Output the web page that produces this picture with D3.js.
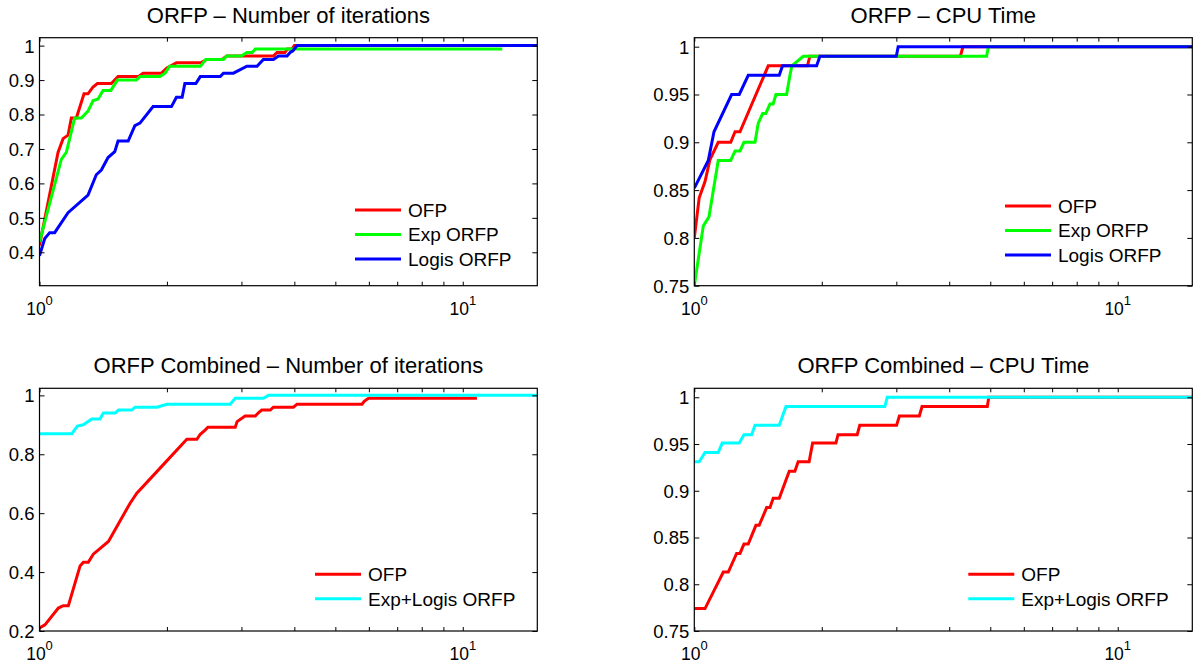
<!DOCTYPE html>
<html>
<head>
<meta charset="utf-8">
<script src="https://cdn.jsdelivr.net/npm/d3@7"></script>
<style>
  body { margin: 0; background: #fff; }
  svg text { font-family: "Liberation Sans", Arial, Helvetica, sans-serif; fill: #000; }
</style>
</head>
<body>
<svg id="chart" width="1198" height="667"></svg>
<script>
// ---- data (tau = performance ratio, rho = fraction solved) ----
var itTauOFP = [1, 1.106, 1.137, 1.168, 1.189, 1.222, 1.274, 1.302, 1.338, 1.37, 1.478, 1.533, 1.711, 1.757, 1.941, 2.0, 2.106, 2.40, 2.487, 2.70, 2.77, 3.57, 3.64, 3.80, 3.85, 3.95, 4.0, 12.4];
var itRhoOFP = [0.42, 0.69, 0.73, 0.74, 0.79, 0.79, 0.86, 0.86, 0.88, 0.89, 0.89, 0.91, 0.91, 0.92, 0.92, 0.935, 0.95, 0.95, 0.96, 0.96, 0.97, 0.97, 0.98, 0.98, 0.99, 0.99, 1.0, 1.0];
var itTauExp = [1, 1.126, 1.157, 1.211, 1.256, 1.302, 1.338, 1.375, 1.413, 1.474, 1.528, 1.694, 1.727, 1.925, 1.98, 2.03, 2.40, 2.47, 2.72, 2.77, 3.0, 3.09, 3.18, 3.235, 12.4];
var itRhoExp = [0.43, 0.67, 0.69, 0.79, 0.79, 0.81, 0.84, 0.845, 0.87, 0.87, 0.90, 0.90, 0.91, 0.91, 0.92, 0.94, 0.94, 0.96, 0.96, 0.97, 0.97, 0.98, 0.98, 0.99, 0.99];
var itTauLog = [1, 1.029, 1.057, 1.086, 1.168, 1.302, 1.362, 1.40, 1.452, 1.506, 1.533, 1.62, 1.68, 1.727, 1.855, 2.05, 2.106, 2.173, 2.205, 2.341, 2.398, 2.673, 2.72, 2.872, 3.09, 3.265, 3.38, 3.57, 3.67, 3.845, 3.91, 3.97, 4.06, 15];
var itRhoLog = [0.39, 0.44, 0.457, 0.457, 0.515, 0.566, 0.625, 0.639, 0.675, 0.692, 0.723, 0.723, 0.768, 0.775, 0.823, 0.823, 0.85, 0.85, 0.89, 0.89, 0.91, 0.91, 0.92, 0.92, 0.94, 0.94, 0.96, 0.96, 0.97, 0.97, 0.98, 0.985, 1.0, 1.0];

var cpuTauOFP = [1, 1.027, 1.06, 1.089, 1.139, 1.219, 1.248, 1.282, 1.495, 1.608, 1.85, 1.875, 4.25, 4.31, 15];
var cpuRhoOFP = [0.80, 0.842, 0.859, 0.882, 0.90, 0.90, 0.911, 0.911, 0.98, 0.98, 0.98, 0.99, 0.99, 1.0, 1.0];
var cpuTauExp = [1, 1.05, 1.083, 1.139, 1.219, 1.248, 1.282, 1.31, 1.391, 1.416, 1.45, 1.475, 1.509, 1.535, 1.559, 1.652, 1.682, 1.70, 1.808, 4.9, 4.95, 15];
var cpuRhoExp = [0.75, 0.8125, 0.822, 0.881, 0.881, 0.891, 0.891, 0.90, 0.90, 0.92, 0.93, 0.93, 0.94, 0.94, 0.95, 0.95, 0.97, 0.98, 0.99, 0.99, 1.0, 1.0];
var cpuTauLog = [1, 1.079, 1.113, 1.225, 1.277, 1.341, 1.587, 1.616, 1.945, 1.98, 3.0, 3.03, 15];
var cpuRhoLog = [0.852, 0.881, 0.911, 0.95, 0.95, 0.97, 0.97, 0.98, 0.98, 0.99, 0.99, 1.0, 1.0];

var cmbItTauOFP = [1, 1.03, 1.108, 1.138, 1.17, 1.247, 1.269, 1.304, 1.34, 1.455, 1.637, 1.698, 1.927, 2.229, 2.354, 2.398, 2.462, 2.50, 2.90, 2.93, 3.06, 3.235, 3.29, 3.35, 3.51, 3.57, 3.98, 4.06, 5.78, 5.85, 5.99, 10.8];
var cmbItRhoOFP = [0.21, 0.221, 0.278, 0.286, 0.286, 0.421, 0.433, 0.433, 0.461, 0.504, 0.634, 0.668, 0.753, 0.851, 0.851, 0.868, 0.882, 0.892, 0.892, 0.911, 0.93, 0.93, 0.941, 0.95, 0.95, 0.96, 0.96, 0.97, 0.97, 0.98, 0.99, 0.99];
var cmbItTauEL = [1, 1.192, 1.229, 1.269, 1.329, 1.39, 1.415, 1.509, 1.537, 1.652, 1.682, 1.893, 2.0, 2.822, 2.9, 3.383, 3.477, 15];
var cmbItRhoEL = [0.87, 0.87, 0.896, 0.90, 0.92, 0.92, 0.94, 0.94, 0.95, 0.95, 0.96, 0.96, 0.97, 0.97, 0.99, 0.99, 1.0, 1.0];

var cmbCpuTauOFP = [1, 1.06, 1.171, 1.203, 1.259, 1.282, 1.31, 1.341, 1.398, 1.423, 1.482, 1.509, 1.536, 1.587, 1.676, 1.728, 1.759, 1.867, 1.903, 2.16, 2.185, 2.425, 2.459, 3.004, 3.05, 3.40, 3.45, 4.92, 4.96, 15];
var cmbCpuRhoOFP = [0.774, 0.774, 0.813, 0.813, 0.833, 0.833, 0.843, 0.843, 0.863, 0.863, 0.882, 0.882, 0.892, 0.892, 0.921, 0.921, 0.931, 0.931, 0.951, 0.951, 0.96, 0.96, 0.97, 0.97, 0.98, 0.98, 0.99, 0.99, 1.0, 1.0];
var cmbCpuTauEL = [1, 1.027, 1.06, 1.139, 1.164, 1.277, 1.31, 1.366, 1.391, 1.587, 1.646, 2.818, 2.855, 15];
var cmbCpuRhoEL = [0.931, 0.931, 0.941, 0.941, 0.951, 0.951, 0.96, 0.96, 0.97, 0.97, 0.99, 0.99, 1.0, 1.0];

var xTicks = [1, 2, 3, 4, 5, 6, 7, 8, 9, 10];
var xLabelTicks = [1, 10];
var xLabelExp = ["0", "1"];
var yTicksIt = [0.4, 0.5, 0.6, 0.7, 0.8, 0.9, 1];
var yLabelsIt = ["0.4", "0.5", "0.6", "0.7", "0.8", "0.9", "1"];
var yTicksCpu = [0.75, 0.8, 0.85, 0.9, 0.95, 1];
var yLabelsCpu = ["0.75", "0.8", "0.85", "0.9", "0.95", "1"];
var yTicksCmb = [0.2, 0.4, 0.6, 0.8, 1];
var yLabelsCmb = ["0.2", "0.4", "0.6", "0.8", "1"];

function zip(a, b) { return a.map(function(v, i) { return [v, b[i]]; }); }

var panels = [
  { title: "ORFP \u2013 Number of iterations", left: 39.5, right: 537.3, top: 37.7, bottom: 285.7,
    yDomain: [0.303, 1.023], yTicks: yTicksIt, yLabels: yLabelsIt, legX: 355, legY: 210,
    series: [
      { name: "OFP", color: "#ff0000", pts: zip(itTauOFP, itRhoOFP) },
      { name: "Exp ORFP", color: "#00ff00", pts: zip(itTauExp, itRhoExp) },
      { name: "Logis ORFP", color: "#0000ff", pts: zip(itTauLog, itRhoLog) }] },
  { title: "ORFP \u2013 CPU Time", left: 694.3, right: 1192.3, top: 37.7, bottom: 285.7,
    yDomain: [0.75, 1.0094], yTicks: yTicksCpu, yLabels: yLabelsCpu, legX: 1005, legY: 206,
    series: [
      { name: "OFP", color: "#ff0000", pts: zip(cpuTauOFP, cpuRhoOFP) },
      { name: "Exp ORFP", color: "#00ff00", pts: zip(cpuTauExp, cpuRhoExp) },
      { name: "Logis ORFP", color: "#0000ff", pts: zip(cpuTauLog, cpuRhoLog) }] },
  { title: "ORFP Combined \u2013 Number of iterations", left: 39.5, right: 537.3, top: 388.3, bottom: 631,
    yDomain: [0.2, 1.024], yTicks: yTicksCmb, yLabels: yLabelsCmb, legX: 315, legY: 574.3,
    series: [
      { name: "OFP", color: "#ff0000", pts: zip(cmbItTauOFP, cmbItRhoOFP) },
      { name: "Exp+Logis ORFP", color: "#00ffff", pts: zip(cmbItTauEL, cmbItRhoEL) }] },
  { title: "ORFP Combined \u2013 CPU Time", left: 694.3, right: 1192.3, top: 388.3, bottom: 631,
    yDomain: [0.75, 1.0096], yTicks: yTicksCpu, yLabels: yLabelsCpu, legX: 968.3, legY: 574.3,
    series: [
      { name: "OFP", color: "#ff0000", pts: zip(cmbCpuTauOFP, cmbCpuRhoOFP) },
      { name: "Exp+Logis ORFP", color: "#00ffff", pts: zip(cmbCpuTauEL, cmbCpuRhoEL) }] }
];

var svg = d3.select("#chart");

panels.forEach(function(p, pi) {
  var w = p.right - p.left, h = p.bottom - p.top;
  var g = svg.append("g").attr("transform", "translate(" + p.left + "," + p.top + ")");

  var x = d3.scaleLog().domain([1, 15]).range([0, w]);
  var y = d3.scaleLinear().domain(p.yDomain).range([h, 0]);

  g.append("clipPath").attr("id", "clip" + pi)
    .append("rect").attr("width", w).attr("height", h);

  var line = d3.line()
      .x(function(d) { return x(d[0]); })
      .y(function(d) { return y(d[1]); });

  p.series.forEach(function(s) {
    g.append("path")
        .datum(s.pts)
        .attr("clip-path", "url(#clip" + pi + ")")
        .attr("fill", "none")
        .attr("stroke", s.color)
        .attr("stroke-width", 3)
        .attr("d", line);
  });

  // inward ticks on all four sides
  var axL = g.append("g").call(d3.axisLeft(y).tickValues(p.yTicks).tickSize(-5).tickPadding(5)
      .tickFormat(function(d, i) { return p.yLabels[i]; }));
  axL.selectAll("text").attr("font-size", 18.5).attr("dy", "0.35em")
      .style("font-family", "'Liberation Sans', Arial, sans-serif");
  g.append("g").attr("transform", "translate(" + w + ",0)")
      .call(d3.axisRight(y).tickValues(p.yTicks).tickSize(-5).tickFormat(""));
  g.append("g").attr("transform", "translate(0," + h + ")")
      .call(d3.axisBottom(x).tickValues(xTicks).tickSize(-4).tickFormat(""));
  g.append("g")
      .call(d3.axisTop(x).tickValues(xTicks).tickSize(-4).tickFormat(""));
  g.selectAll(".domain").remove();
  g.selectAll(".tick line").attr("stroke", "#000").attr("stroke-width", 1);

  g.append("rect").attr("width", w).attr("height", h)
      .attr("fill", "none").attr("stroke", "#000").attr("stroke-width", 1.2);

  // x labels 10^n
  xLabelTicks.forEach(function(t, i) {
    var tx = g.append("text")
        .attr("x", x(t))
        .attr("y", h + 29)
        .attr("text-anchor", "middle")
        .attr("font-size", 17.5)
        .text("10");
    tx.append("tspan").attr("dy", -10).attr("font-size", 13).text(xLabelExp[i]);
  });

  g.append("text")
      .attr("x", w / 2)
      .attr("y", -15)
      .attr("text-anchor", "middle")
      .attr("font-size", 22)
      .text(p.title);

  // legend, no box
  p.series.forEach(function(s, i) {
    var ly = p.legY + i * 24.5 - p.top, lx = p.legX - p.left;
    g.append("line")
        .attr("x1", lx).attr("x2", lx + 46)
        .attr("y1", ly).attr("y2", ly)
        .attr("stroke", s.color).attr("stroke-width", 3);
    g.append("text")
        .attr("x", lx + 53)
        .attr("y", ly)
        .attr("dy", "0.36em")
        .attr("font-size", 19)
        .text(s.name);
  });
});
</script>
</body>
</html>
